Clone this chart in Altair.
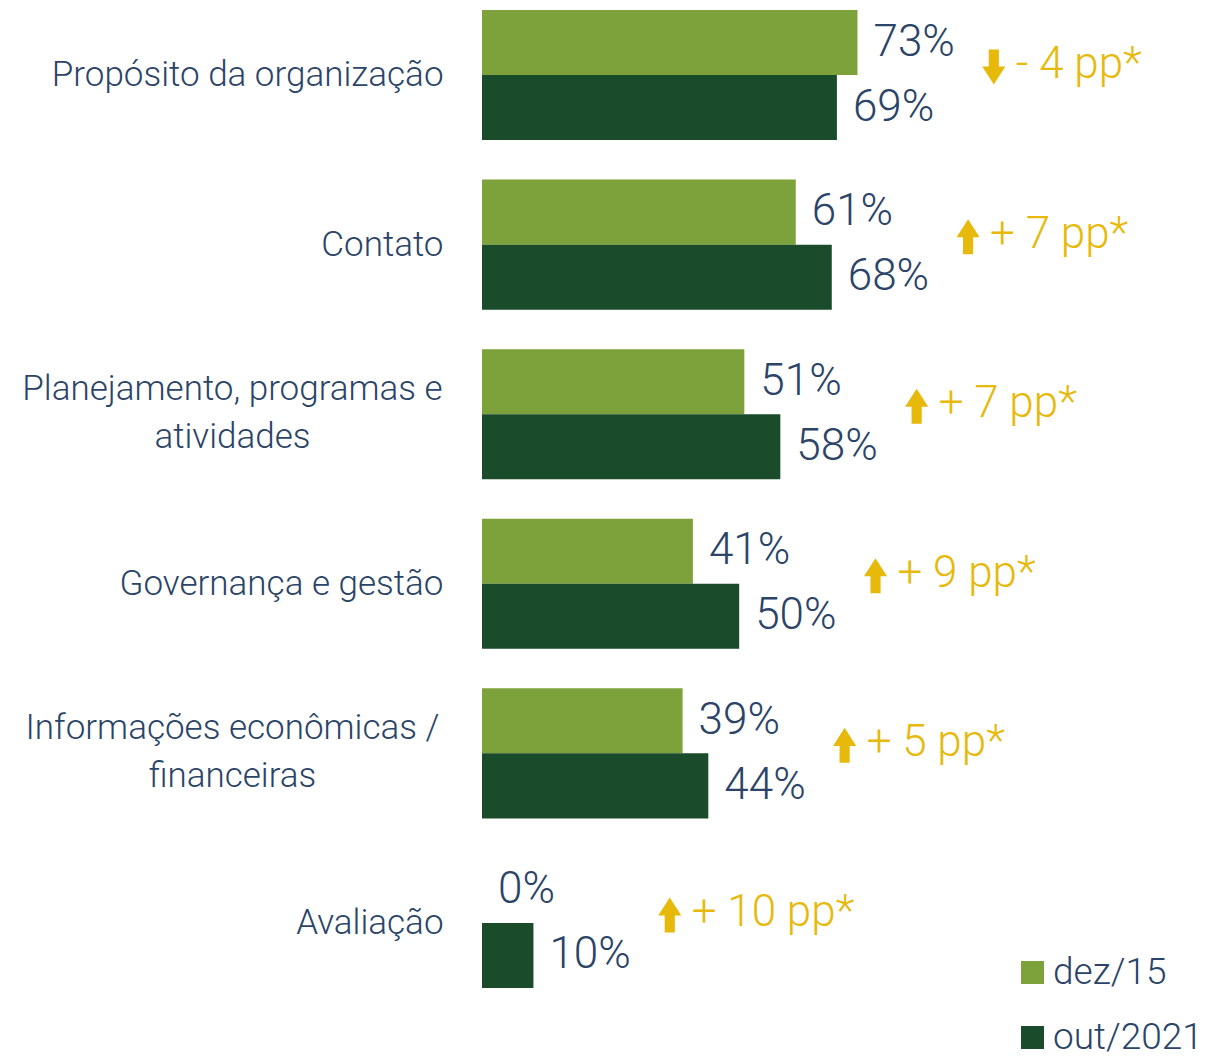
import altair as alt
import pandas as pd

categories = [
    "Propósito da organização",
    "Contato",
    "Planejamento, programas e|atividades",
    "Governança e gestão",
    "Informações econômicas /|financeiras",
    "Avaliação",
]
series = ["dez/15", "out/2021"]
dez15 = [73, 61, 51, 41, 39, 0]
out2021 = [69, 68, 58, 50, 44, 10]
change_text = ["- 4 pp*", "+ 7 pp*", "+ 7 pp*", "+ 9 pp*", "+ 5 pp*", "+ 10 pp*"]
change_dir = ["down", "up", "up", "up", "up", "up"]

LIGHT = "#7DA23B"
DARK = "#1A4B2B"
NAVY = "#2B4468"
GOLD = "#E6B90B"
FONT = "Roboto"
XMAX = 139.2

rows = []
for c, a, b in zip(categories, dez15, out2021):
    rows.append({"cat": c, "series": series[0], "value": a, "label": f"{a}%"})
    rows.append({"cat": c, "series": series[1], "value": b, "label": f"{b}%"})
df = pd.DataFrame(rows)

ann = pd.DataFrame({
    "cat": categories,
    "maxv": [max(a, b) for a, b in zip(dez15, out2021)],
    "txt": change_text,
    "dir": change_dir,
})

UP = "M0,-1 L0.66,0.03 L0.29,0.03 L0.29,1 L-0.29,1 L-0.29,0.03 L-0.66,0.03 Z"
DOWN = "M0,1 L0.66,-0.03 L0.29,-0.03 L0.29,-1 L-0.29,-1 L-0.29,-0.03 L-0.66,-0.03 Z"

MULTI = "indexof(datum.label, '|') >= 0"

y = alt.Y(
    "cat:N",
    sort=categories,
    scale=alt.Scale(paddingInner=0.233, paddingOuter=0.012),
    axis=alt.Axis(
        title=None,
        labelExpr="split(datum.label, '|')",
        labelFontSize=35,
        labelFont=FONT,
        labelFontWeight=300,
        labelColor=NAVY,
        labelPadding={"condition": {"test": MULTI, "value": 250}, "value": 39},
        labelAlign={"condition": {"test": MULTI, "value": "center"}, "value": "right"},
        labelOffset={"condition": {"test": MULTI, "value": -25}, "value": 0},
        labelLineHeight=48,
        labelLimit=700,
        ticks=False,
        domain=False,
        grid=False,
    ),
)
yoff = alt.YOffset("series:N", sort=series, scale=alt.Scale(paddingInner=0, paddingOuter=0))
x = alt.X("value:Q", scale=alt.Scale(domain=[0, XMAX]), axis=None)

bars = alt.Chart(df).mark_bar().encode(
    y=y,
    yOffset=yoff,
    x=x,
    color=alt.Color(
        "series:N",
        sort=series,
        scale=alt.Scale(domain=series, range=[LIGHT, DARK]),
        legend=alt.Legend(
            title=None,
            orient="none",
            legendX=532,
            legendY=946,
            direction="vertical",
            symbolType="square",
            symbolSize=529,
            symbolStrokeWidth=0,
            symbolOpacity=1,
            labelFontSize=37,
            labelFont=FONT,
            labelFontWeight=300,
            labelColor=NAVY,
            labelOffset=2,
            labelLimit=300,
            rowPadding=27,
            padding=0,
        ),
    ),
)

labels = alt.Chart(df).mark_text(
    align="left", baseline="middle", dx=16, fontSize=44, font=FONT, fontWeight=300, color=NAVY
).encode(y=y, yOffset=yoff, x=x, text="label:N")

arrows = alt.Chart(ann).transform_calculate(ax="datum.maxv + 26.5").mark_point(
    filled=True, opacity=1, size=1225, color=GOLD, strokeWidth=0, yOffset=-8
).encode(
    x=alt.X("ax:Q", scale=alt.Scale(domain=[0, XMAX]), axis=None),
    y=y,
    shape=alt.Shape("dir:N", scale=alt.Scale(domain=["down", "up"], range=[DOWN, UP]), legend=None),
)

ann_text = alt.Chart(ann).transform_calculate(ax="datum.maxv + 26.5").mark_text(
    align="left", baseline="middle", dx=22, dy=-10, fontSize=44, font=FONT, fontWeight=300, color=GOLD
).encode(
    x=alt.X("ax:Q", scale=alt.Scale(domain=[0, XMAX]), axis=None),
    y=y,
    text="txt:N",
)

chart = alt.layer(bars, labels, arrows, ann_text).properties(
    width=716,
    height=982,
    autosize=alt.AutoSizeParams(type="none"),
    padding={"left": 474, "top": 0, "right": 6, "bottom": 70},
).configure(background="white").configure_view(stroke=None, strokeWidth=0)

chart.save("out.html", embed_options={"renderer": "svg", "actions": False})
